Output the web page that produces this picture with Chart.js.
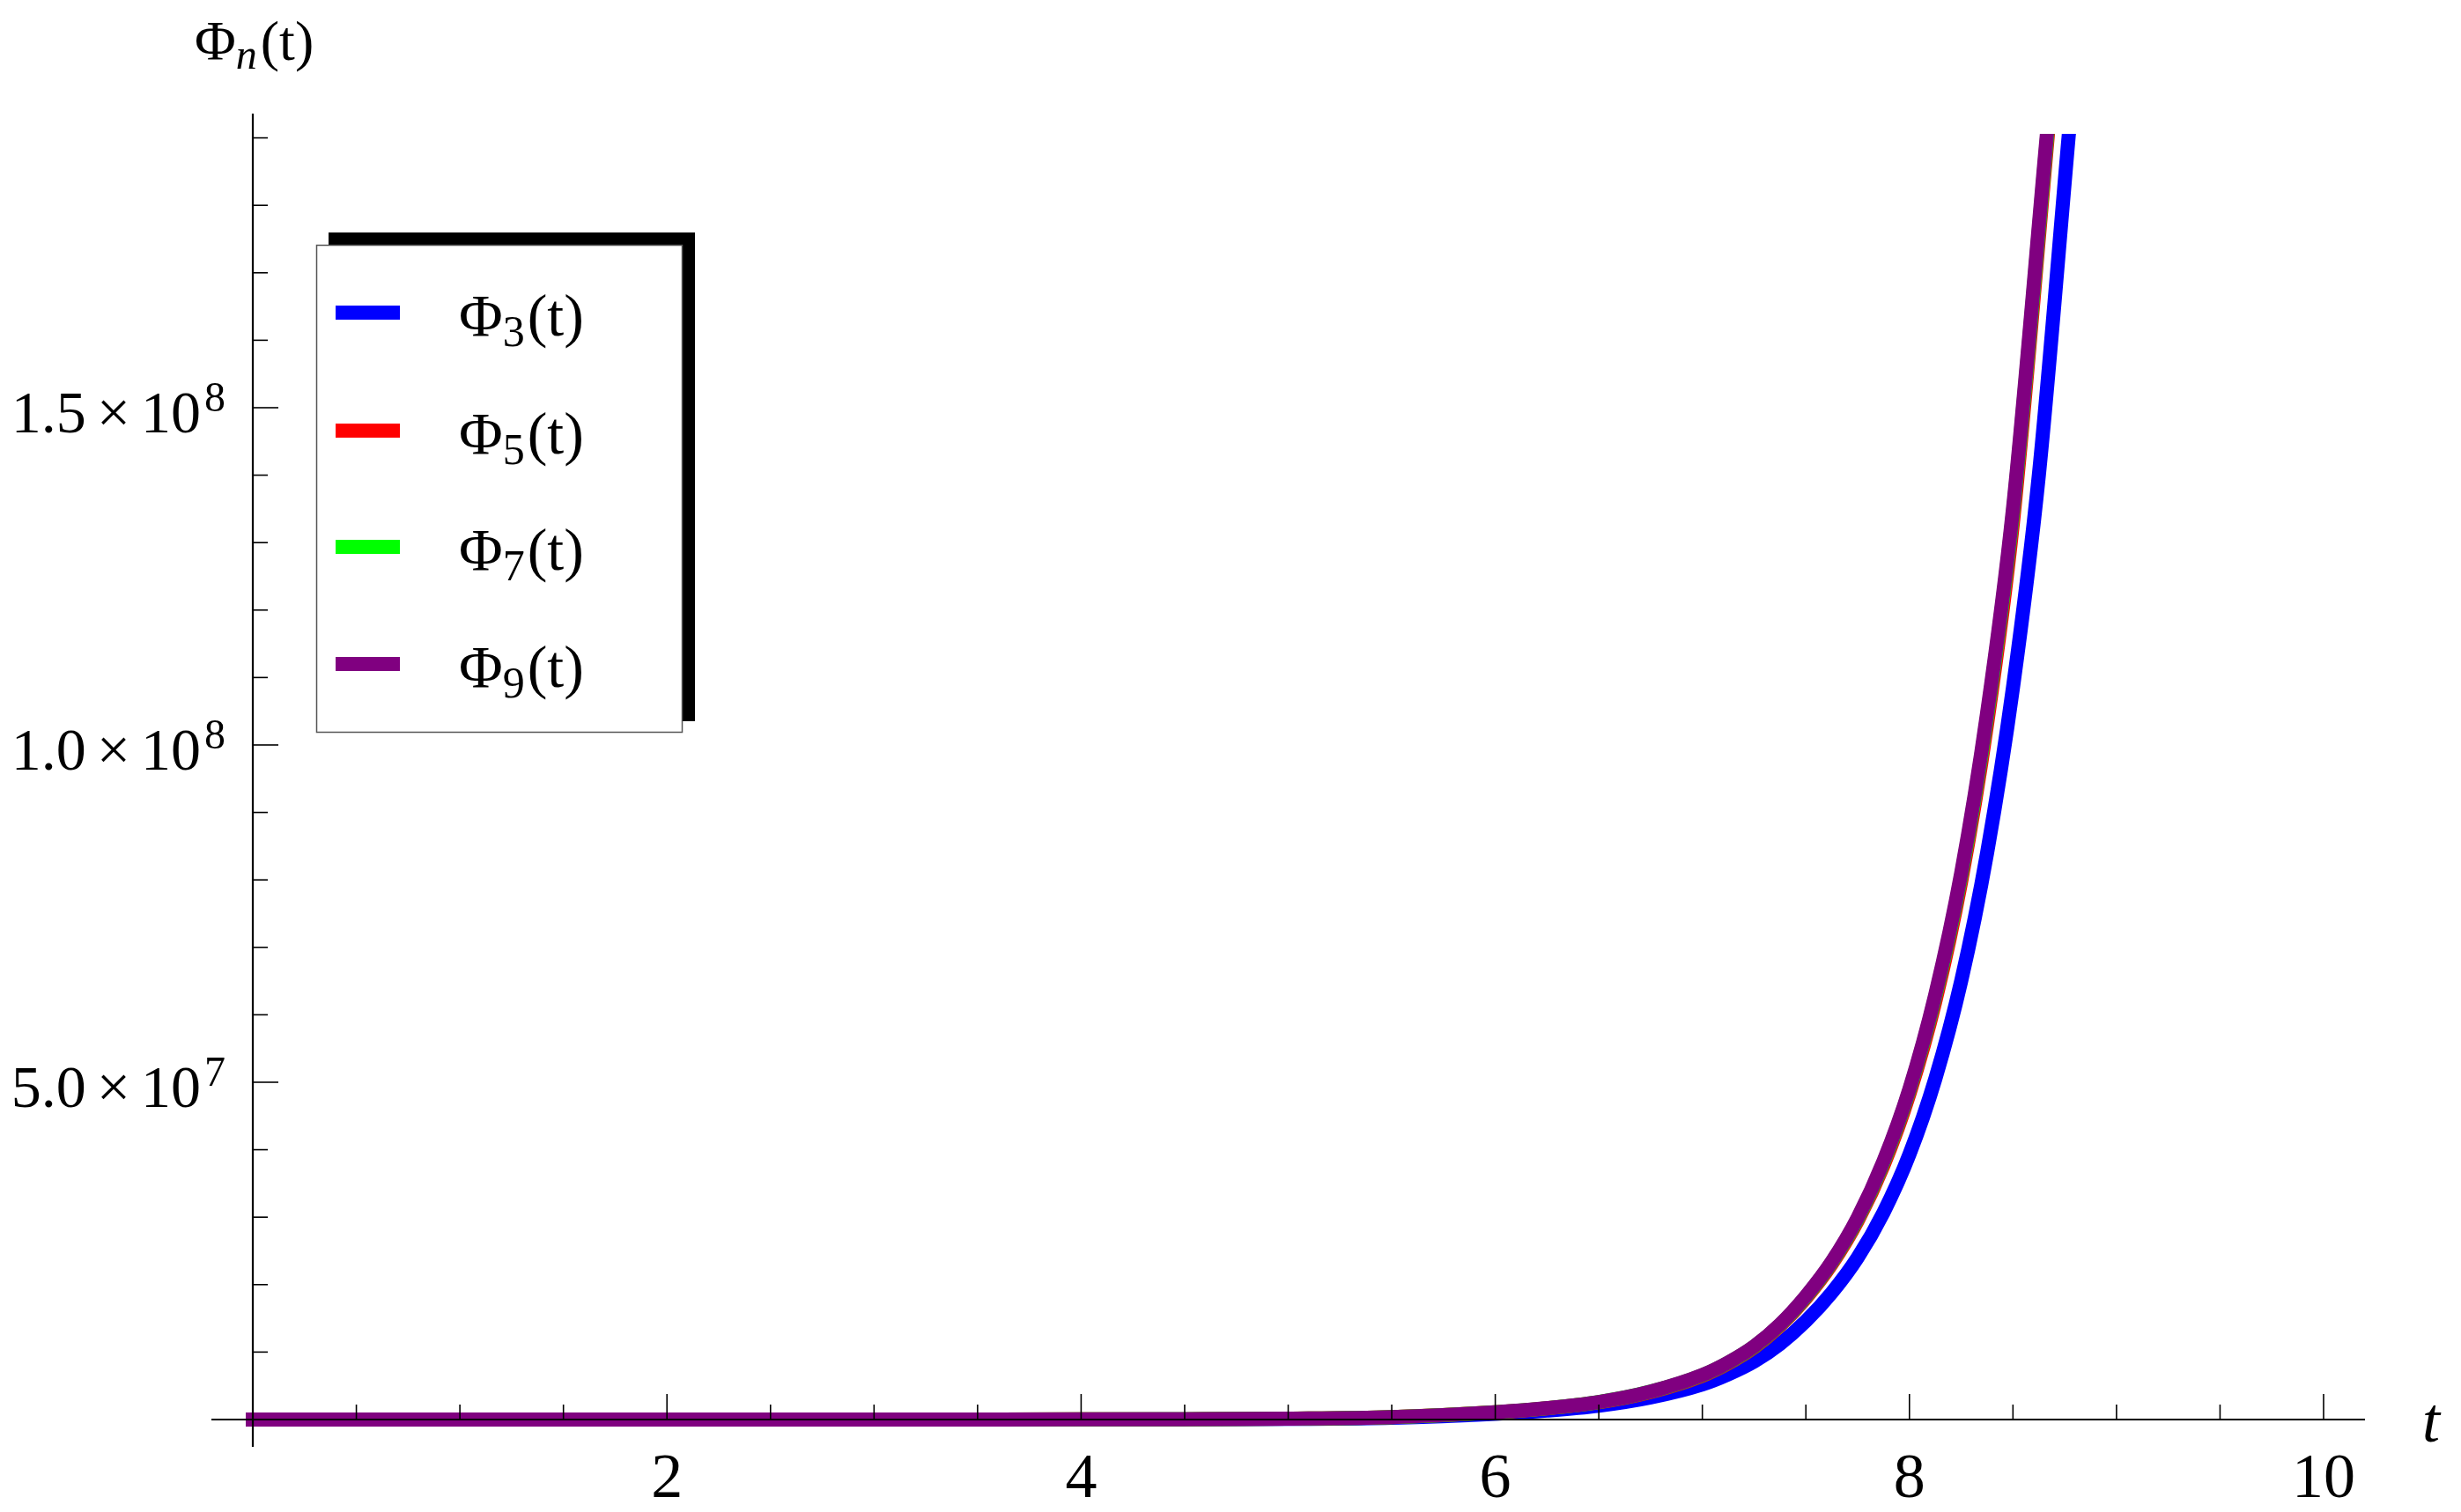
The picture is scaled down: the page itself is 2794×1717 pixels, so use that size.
<!DOCTYPE html>
<html><head><meta charset="utf-8">
<script src="https://cdn.jsdelivr.net/npm/chart.js@4.4.0/dist/chart.umd.min.js"></script>
<style>html,body{margin:0;padding:0;background:#fff;overflow:hidden}canvas{display:block}</style>
</head><body>
<canvas id="c" width="2794" height="1717" style="width:2794px;height:1717px"></canvas>
<script>
const tGrid = [0, 1, 2, 3, 4, 4.5, 5, 5.5, 6, 6.25, 6.5, 6.75, 7, 7.125, 7.25, 7.375, 7.5, 7.625, 7.75, 7.875, 8, 8.125, 8.25, 8.375, 8.5];
const phi3  = [4, 25, 200, 1.5e3, 1.2e4, 3.3e4, 9.0e4, 2.6e5, 8.5e5, 1.33e6, 2.05e6, 3.27e6, 5.2e6, 6.7e6, 8.6e6, 1.12e7, 1.46e7, 1.88e7, 2.4e7, 3.07e7, 3.93e7, 5.05e7, 6.5e7, 8.4e7, 1.085e8];
const tEnd3 = [8.625, 8.77];  const phi3End = [1.40e8, 1.906e8];
const phi5  = [6, 39, 295, 2.15e3, 1.67e4, 4.4e4, 1.28e5, 3.55e5, 1.07e6, 1.665e6, 2.56e6, 4.09e6, 6.5e6, 8.33e6, 1.069e7, 1.39e7, 1.80e7, 2.305e7, 2.945e7, 3.77e7, 4.83e7, 6.2e7, 7.98e7, 1.031e8, 1.33e8];
const tEnd5 = [8.669];  const phi5End = [1.906e8];
const phi7  = [6, 40, 298, 2.2e3, 1.69e4, 4.48e4, 1.29e5, 3.58e5, 1.085e6, 1.68e6, 2.59e6, 4.13e6, 6.57e6, 8.42e6, 1.08e7, 1.403e7, 1.82e7, 2.33e7, 2.975e7, 3.81e7, 4.88e7, 6.27e7, 8.06e7, 1.042e8, 1.344e8];
const tEnd7 = [8.666];  const phi7End = [1.906e8];
const phi9  = [6, 40, 300, 2.2e3, 1.7e4, 4.5e4, 1.3e5, 3.6e5, 1.09e6, 1.69e6, 2.6e6, 4.15e6, 6.6e6, 8.46e6, 1.085e7, 1.41e7, 1.83e7, 2.34e7, 2.99e7, 3.83e7, 4.9e7, 6.3e7, 8.1e7, 1.047e8, 1.35e8];
const tEnd9 = [8.664];  const phi9End = [1.906e8];

const seriesSubs   = ['3', '5', '7', '9'];
const seriesColors = ['#0000ff', '#ff0000', '#00ff00', '#800080'];

const xMajorTicks = [2, 4, 6, 8, 10];
const yMajorTicks = [5e7, 1e8, 1.5e8];
const yTickMant   = ['5.0', '1.0', '1.5'];
const yTickExp    = ['7', '8', '8'];
const xRange = [-0.2, 10.2];
const yRange = [-4.05e6, 1.936e8];

const FONT = '"Liberation Serif"';

function pts(ts, vs, te, ve){ return ts.concat(te).map((t,i)=>({x:t, y:vs.concat(ve)[i]})); }

function phiText(ctx, x, yBase, sub, size, subSize, subDy, subItalic, gap){
  ctx.font = size + 'px ' + FONT;
  ctx.fillText('\u03A6', x, yBase); x += ctx.measureText('\u03A6').width;
  ctx.font = (subItalic ? 'italic ' : '') + subSize + 'px ' + FONT;
  ctx.fillText(sub, x, yBase + subDy); x += ctx.measureText(sub).width + gap;
  ctx.font = size + 'px ' + FONT;
  ctx.fillText('(t)', x, yBase);
}

const overlay = {
  id: 'overlay',
  afterDatasetsDraw(chart){
    const ctx = chart.ctx, xs = chart.scales.x, ys = chart.scales.y;
    const X = v => xs.getPixelForValue(v), Y = v => ys.getPixelForValue(v);
    ctx.save();
    ctx.strokeStyle = '#000'; ctx.fillStyle = '#000';
    ctx.lineWidth = 2.2;
    ctx.beginPath(); ctx.moveTo(X(xRange[0]), Y(0)); ctx.lineTo(X(xRange[1]), Y(0)); ctx.stroke();
    ctx.beginPath(); ctx.moveTo(X(0), Y(yRange[0])); ctx.lineTo(X(0), Y(yRange[1])); ctx.stroke();
    ctx.lineWidth = 1.6;
    for (let k = 1; k <= 20; k++){
      const v = k * 0.5;
      const len = xMajorTicks.includes(v) ? 29 : 17;
      ctx.beginPath(); ctx.moveTo(X(v), Y(0)); ctx.lineTo(X(v), Y(0) - len); ctx.stroke();
    }
    for (let k = 1; k <= 19; k++){
      const v = k * 1e7;
      const len = yMajorTicks.includes(v) ? 29 : 17;
      ctx.beginPath(); ctx.moveTo(X(0), Y(v)); ctx.lineTo(X(0) + len, Y(v)); ctx.stroke();
    }
    ctx.textAlign = 'center'; ctx.textBaseline = 'alphabetic';
    ctx.font = '72px ' + FONT;
    xMajorTicks.forEach(v => ctx.fillText(String(v), X(v), Y(0) + 88));
    ctx.textAlign = 'left';
    yMajorTicks.forEach((v, i) => {
      const yb = Y(v) + 28;
      ctx.font = '48px ' + FONT; const wE = ctx.measureText(yTickExp[i]).width;
      ctx.font = '68px ' + FONT;
      const wM = ctx.measureText(yTickMant[i]).width;
      const wT = ctx.measureText('\u00D7').width;
      const w1 = ctx.measureText('10').width;
      const gap = 12, gapE = 4;
      let x = 256 - wE - gapE - w1 - gap - wT - gap - wM;
      ctx.fillText(yTickMant[i], x, yb); x += wM + gap;
      ctx.fillText('\u00D7', x, yb); x += wT + gap;
      ctx.fillText('10', x, yb); x += w1 + gapE;
      ctx.font = '48px ' + FONT;
      ctx.fillText(yTickExp[i], x, Y(v) + 4);
    });
    ctx.font = 'italic 72px ' + FONT; ctx.textAlign = 'center';
    ctx.fillText('t', 2760, 1637);
    ctx.textAlign = 'left';
    phiText(ctx, 221, 68, 'n', 64, 48, 10, true, 4);
    ctx.restore();
  },
  afterDraw(chart){
    const ctx = chart.ctx;
    ctx.save();
    ctx.fillStyle = '#000';
    ctx.fillRect(373, 264, 416, 555);
    ctx.fillStyle = '#fff';
    ctx.fillRect(359, 278, 415, 553);
    ctx.strokeStyle = '#555'; ctx.lineWidth = 1.5;
    ctx.strokeRect(359.5, 278.5, 415, 553);
    const rows = [355, 489, 621, 754];
    ctx.textAlign = 'left'; ctx.textBaseline = 'alphabetic';
    seriesSubs.forEach((s, i) => {
      ctx.strokeStyle = seriesColors[i]; ctx.lineWidth = 16; ctx.lineCap = 'butt';
      ctx.beginPath(); ctx.moveTo(381, rows[i]); ctx.lineTo(454, rows[i]); ctx.stroke();
      ctx.fillStyle = '#000';
      phiText(ctx, 521, rows[i] + 26, s, 68, 50, 12, false, 3);
    });
    ctx.restore();
  }
};

const mk = (label, data, color, order) => ({
  label, data, showLine: true, pointRadius: 0, borderWidth: 16,
  borderColor: color, backgroundColor: color, borderCapStyle: 'square',
  borderJoinStyle: 'round', cubicInterpolationMode: 'monotone', fill: false, order,
  clip: {left: 0, right: 0, bottom: 0, top: -23}
});

new Chart(document.getElementById('c'), {
  type: 'scatter',
  data: { datasets: [
    mk('\u03A63(t)', pts(tGrid, phi3, tEnd3, phi3End), seriesColors[0], 3),
    mk('\u03A65(t)', pts(tGrid, phi5, tEnd5, phi5End), seriesColors[1], 2),
    mk('\u03A67(t)', pts(tGrid, phi7, tEnd7, phi7End), seriesColors[2], 1),
    mk('\u03A69(t)', pts(tGrid, phi9, tEnd9, phi9End), seriesColors[3], 0)
  ]},
  options: {
    responsive: false, animation: false, devicePixelRatio: 1,
    layout: { padding: { left: 240, right: 109, top: 129, bottom: 74 } },
    plugins: { legend: { display: false }, tooltip: { enabled: false } },
    scales: {
      x: { type: 'linear', min: xRange[0], max: xRange[1], display: false },
      y: { type: 'linear', min: yRange[0], max: yRange[1], display: false }
    }
  },
  plugins: [overlay]
});
</script>
</body></html>
